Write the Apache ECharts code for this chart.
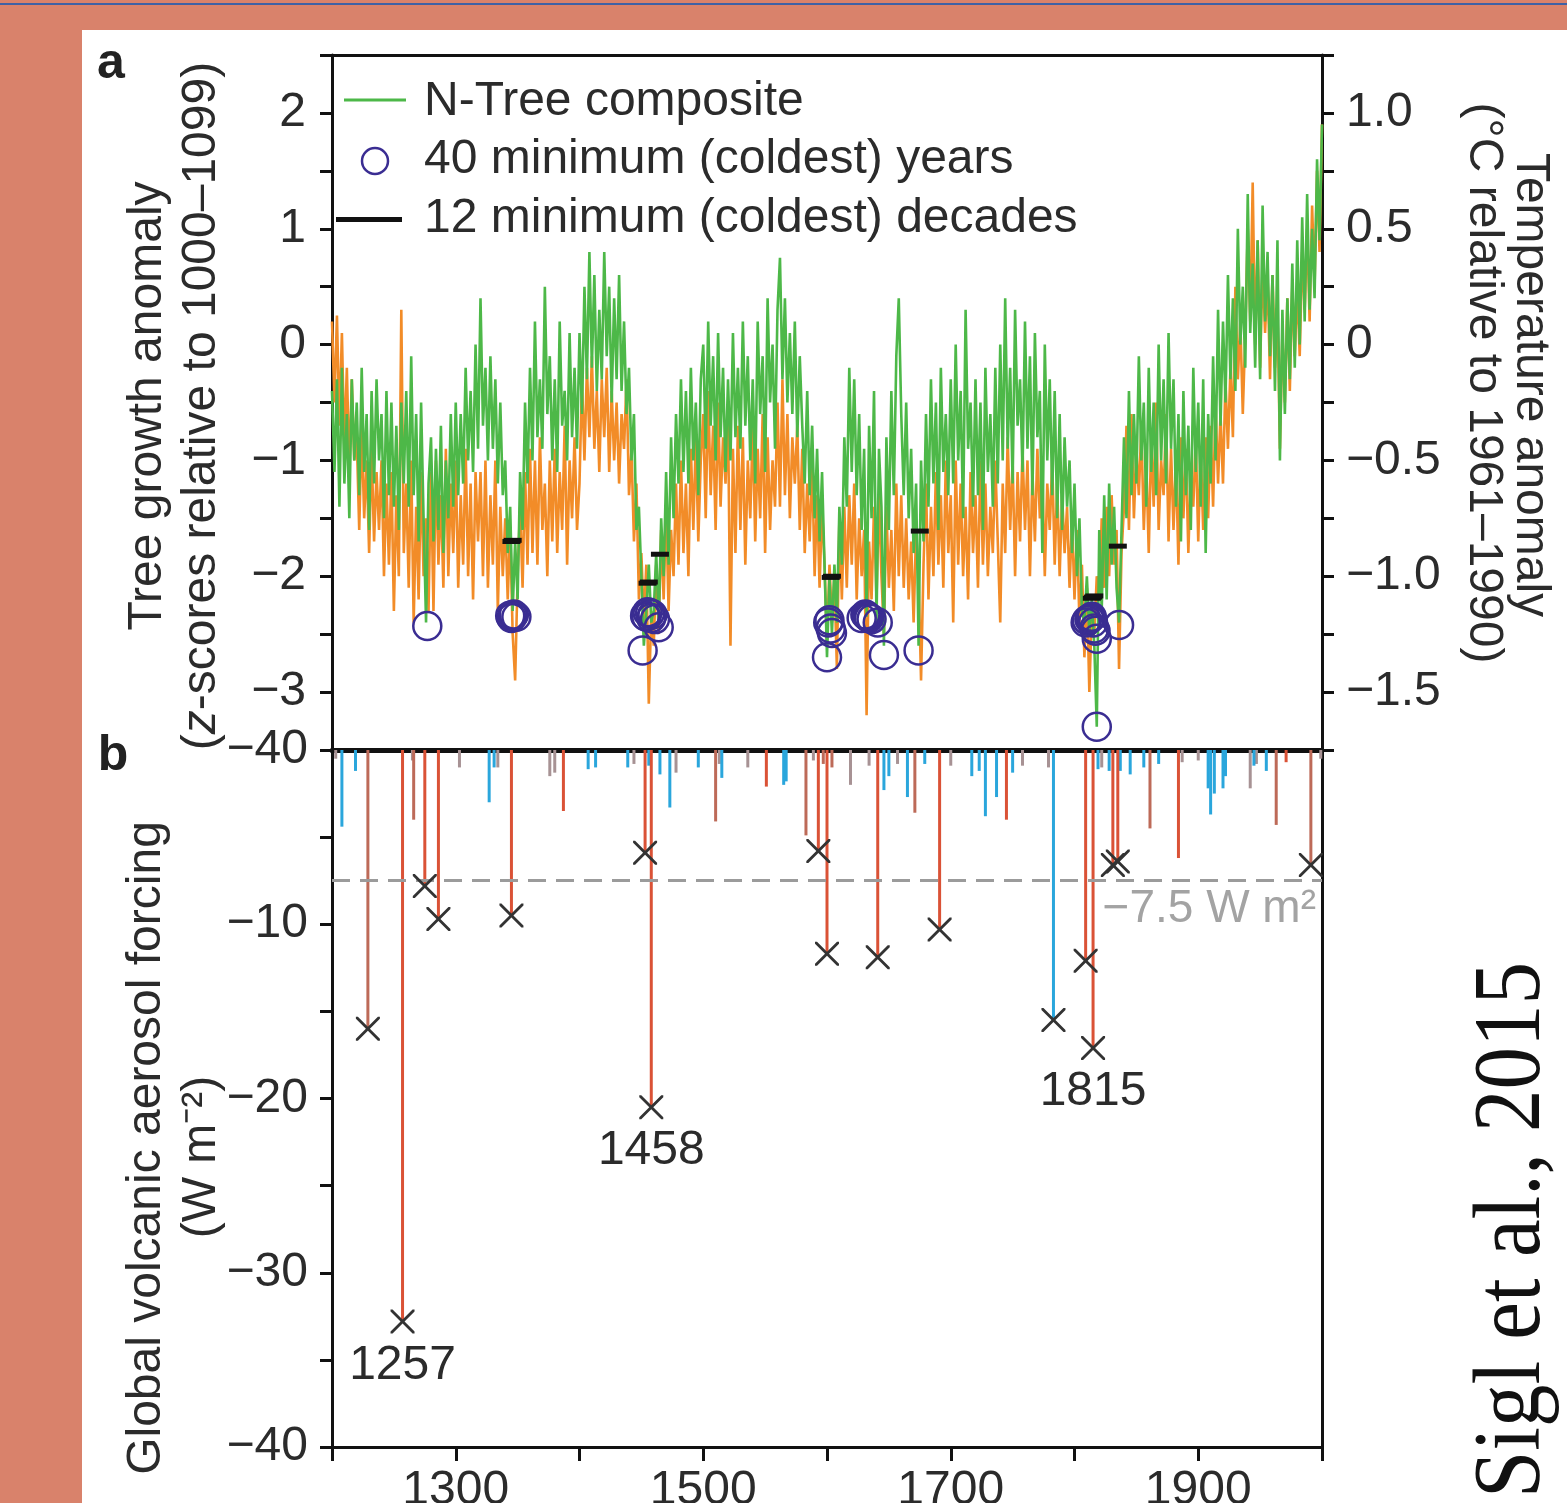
<!DOCTYPE html>
<html>
<head>
<meta charset="utf-8">
<script src="https://cdn.jsdelivr.net/npm/echarts@6/dist/echarts.min.js"></script>
<style>
html,body{margin:0;padding:0;background:#d9826b;}
#topline{position:absolute;left:0;top:3px;width:1567px;height:2px;background:#3f61a5;}
#panel{position:absolute;left:82px;top:30px;width:1485px;height:1473px;background:#fff;}
#chart{position:absolute;left:0;top:0;width:1567px;height:1503px;}
</style>
</head>
<body>
<div id="topline"></div>
<div id="panel"></div>
<div id="chart"></div>
<script>
// reconstructions read every 2 years; one row per 20-year block starting 1200
var startYear = 1200, blockYears = 20, stepYears = 2;

var nTreeComposite = [
  [-0.4,-1.1,-0.3,-1.4,-0.2,-1.2,-0.6,-1.5,-0.3,-1.0],   // 1200
  [-0.5,-1.3,-0.2,-1.1,-0.6,-1.6,-0.4,-1.2,-0.3,-1.0],   // 1220
  [-0.6,-1.5,-0.4,-1.3,-0.5,-1.4,-0.7,-1.6,-0.5,-1.2],   // 1240
  [-0.4,-1.4,-0.1,-1.3,-0.6,-1.7,-0.5,-1.5,-2.4,-1.2],   // 1260
  [-0.8,-1.7,-0.9,-1.6,-0.7,-1.8,-1.0,-1.5,-0.6,-1.4],   // 1280
  [-0.5,-1.3,-0.6,-1.2,-0.2,-1.0,-0.4,-1.1,0.0,-0.9],    // 1300
  [0.4,-0.7,-0.2,-1.0,-0.1,-0.9,-0.3,-1.2,-0.5,-1.3],    // 1320
  [-1.0,-1.8,-1.4,-2.3,-1.7,-2.2,-1.1,-1.6,-0.5,-1.2],   // 1340
  [-0.2,-1.0,0.2,-0.8,-0.3,-0.9,0.5,-0.6,-0.1,-1.0],     // 1360
  [-0.3,-1.1,0.2,-0.7,-0.4,-1.0,0.1,-0.8,-0.2,-0.9],     // 1380
  [0.1,-0.6,0.5,-0.3,0.8,-0.2,0.6,-0.4,0.3,-0.3],        // 1400
  [0.8,-0.1,0.5,-0.5,0.4,-0.3,0.6,-0.4,0.2,-0.6],        // 1420
  [-0.2,-1.0,-0.6,-1.6,-1.4,-2.0,-2.6,-2.3,-1.9,-2.4],   // 1440
  [-2.3,-1.8,-2.4,-1.5,-2.0,-1.1,-1.9,-0.8,-1.5,-0.6],   // 1460
  [-1.2,-0.3,-1.1,-0.4,-1.2,-0.2,-1.0,-0.5,-1.3,-0.3],   // 1480
  [0.0,-0.9,0.2,-0.7,-0.1,-1.0,0.1,-0.8,-0.2,-1.1],      // 1500
  [-0.3,-1.0,0.1,-0.8,-0.2,-0.9,0.2,-0.7,-0.1,-1.0],     // 1520
  [-0.3,-1.2,0.2,-0.6,-0.1,-1.1,0.4,-0.5,0.0,-0.9],      // 1540
  [0.3,0.75,-0.3,0.4,-0.5,0.1,-0.6,0.2,-0.8,-0.1],       // 1560
  [-0.7,-1.2,-0.4,-1.3,-0.7,-1.5,-0.9,-1.7,-1.1,-1.9],   // 1580
  [-2.7,-2.0,-2.5,-1.9,-2.4,-1.4,-1.9,-0.8,-1.4,-0.2],   // 1600
  [-1.1,-0.3,-1.3,-0.6,-1.6,-0.9,-2.35,-0.7,-1.5,-0.4],  // 1620
  [-2.4,-0.9,-1.4,-2.6,-0.8,-1.6,-0.4,-1.3,-0.1,0.4],    // 1640
  [-0.6,-1.3,-0.5,-1.5,-0.9,-1.8,-1.2,-2.6,-1.0,-1.7],   // 1660
  [-0.6,-1.4,-0.3,-1.2,-0.5,-1.6,-0.2,-1.1,-0.6,-1.3],   // 1680
  [-0.3,-1.2,0.0,-1.0,-0.4,-1.5,0.3,-0.9,-0.5,-1.4],     // 1700
  [-0.3,-1.3,-0.5,-1.6,-0.2,-1.1,-0.6,-1.4,-0.2,-1.2],   // 1720
  [0.0,-1.0,0.4,-0.9,-0.2,-1.2,0.3,-0.7,-0.3,-1.1],      // 1740
  [0.2,-0.9,-0.1,-1.3,0.1,-0.8,-0.4,-1.8,0.0,-1.0],      // 1760
  [-0.3,-1.3,-0.4,-1.5,-0.6,-1.6,-0.8,-1.4,-1.0,-1.8],   // 1780
  [-1.2,-2.0,-1.5,-2.3,-2.4,-2.0,-2.5,-2.2,-2.6,-3.3],   // 1800
  [-1.6,-2.3,-1.3,-2.2,-1.2,-1.9,-1.4,-2.1,-2.4,-1.6],   // 1820
  [-0.8,-1.5,-0.4,-1.3,-0.6,-1.2,-0.1,-1.0,-0.5,-1.4],   // 1840
  [-0.2,-1.1,-0.5,-1.3,0.0,-1.0,-0.3,-1.2,0.1,-0.9],     // 1860
  [-0.3,-1.4,-0.6,-1.7,-0.4,-1.3,-0.7,-1.6,-0.2,-1.1],   // 1880
  [-0.5,-1.4,-0.3,-1.8,-0.6,-1.2,-0.1,-1.0,0.3,-0.7],    // 1900
  [0.2,-0.5,0.6,-0.3,0.4,-0.4,1.0,0.0,0.5,-0.2],         // 1920
  [1.3,0.1,0.7,-0.2,0.9,-0.3,1.2,0.2,0.8,-0.1],          // 1940
  [0.6,-0.4,0.9,-1.0,0.3,-0.6,0.4,-0.3,0.7,-0.2],        // 1960
  [0.9,0.0,1.1,0.2,1.3,0.3,1.0,0.4,1.6,0.9],             // 1980
  [1.9]                                                  // 2000
];

var orangeRecon = [
  [0.2,-0.5,0.25,-0.7,0.1,-0.9,-0.2,-1.1,-0.3,-1.0],     // 1200
  [-0.8,-1.6,-0.7,-1.5,-1.0,-1.8,-0.9,-1.7,-1.1,-1.6],   // 1220
  [-1.0,-2.0,-1.2,-1.9,-1.1,-2.3,-1.3,-2.0,0.3,-1.8],    // 1240
  [-1.2,-2.1,-1.0,-2.4,-1.4,-2.2,-1.1,-2.0,-1.5,-2.3],   // 1260
  [-1.1,-2.3,-1.0,-1.9,-1.3,-2.1,-0.9,-2.0,-1.2,-1.8],   // 1280
  [-1.0,-2.1,-1.3,-1.9,-0.9,-2.0,-1.2,-2.2,-1.1,-1.7],   // 1300
  [-1.1,-2.0,-1.0,-2.1,-1.3,-1.9,-1.0,-2.3,-1.4,-2.0],   // 1320
  [-1.5,-2.2,-1.6,-2.5,-2.9,-2.0,-1.4,-2.1,-1.1,-1.9],   // 1340
  [-0.9,-1.8,-1.0,-1.9,-0.8,-1.6,-1.2,-2.0,-1.0,-1.7],   // 1360
  [-0.9,-1.8,-1.1,-1.6,-0.7,-1.9,-1.0,-1.5,-0.8,-1.6],   // 1380
  [-1.2,-0.3,-1.0,-0.2,-0.8,-0.1,-0.9,-0.4,-1.1,-0.3],   // 1400
  [-0.8,-0.2,-1.1,-0.4,-1.0,-0.5,-1.2,-0.6,-0.9,-0.3],   // 1420
  [-1.3,-0.9,-1.7,-1.2,-2.2,-1.8,-2.4,-1.9,-3.1,-2.3],   // 1440
  [-2.6,-1.9,-2.5,-1.6,-2.2,-1.4,-2.3,-1.6,-2.0,-1.2],   // 1460
  [-1.9,-1.0,-1.8,-1.2,-2.0,-0.9,-1.6,-0.8,-1.7,-1.0],   // 1480
  [-0.6,-1.5,-0.4,-1.3,-0.7,-1.6,-0.5,-1.4,-0.8,-1.2],   // 1500
  [-0.6,-2.6,-0.9,-1.8,-0.7,-1.6,-0.8,-1.9,-1.0,-1.5],   // 1520
  [-0.7,-1.7,-0.9,-1.5,-0.6,-1.8,-0.8,-1.6,-1.0,-1.4],   // 1540
  [-0.5,-1.4,-0.3,-1.3,-0.6,-1.5,-0.8,-1.2,-0.7,-1.6],   // 1560
  [-0.9,-1.8,-1.2,-1.7,-1.0,-2.0,-1.3,-2.1,-1.4,-1.9],   // 1580
  [-2.6,-1.9,-2.4,-2.0,-2.8,-1.5,-2.2,-1.4,-2.1,-1.3],   // 1600
  [-1.9,-1.2,-2.2,-1.5,-2.0,-1.6,-3.2,-1.7,-2.2,-1.4],   // 1620
  [-2.2,-1.3,-2.0,-2.5,-1.4,-2.1,-1.6,-2.3,-1.2,-2.0],   // 1640
  [-1.3,-2.1,-1.5,-2.2,-1.7,-2.4,-1.6,-2.0,-2.9,-1.9],   // 1660
  [-1.2,-2.2,-1.4,-2.0,-1.1,-1.9,-1.3,-2.1,-1.0,-1.8],   // 1680
  [-1.3,-2.4,-1.0,-1.9,-1.2,-2.0,-1.4,-2.2,-1.1,-1.8],   // 1700
  [-1.3,-2.1,-1.0,-1.9,-1.2,-2.0,-1.4,-1.8,-1.0,-1.7],   // 1720
  [-2.4,-1.2,-1.8,-0.8,-1.6,-1.0,-2.0,-1.1,-1.7,-0.9],   // 1740
  [-1.6,-1.0,-2.0,-1.1,-1.7,-0.9,-1.5,-1.1,-2.0,-1.2],   // 1760
  [-1.6,-1.0,-1.9,-1.2,-2.0,-1.3,-1.8,-1.4,-2.1,-1.5],   // 1780
  [-2.2,-1.6,-2.4,-1.9,-2.7,-2.1,-3.0,-2.3,-2.5,-2.0],   // 1800
  [-2.2,-1.5,-2.1,-1.4,-2.0,-1.3,-1.9,-1.6,-2.8,-1.8],   // 1820
  [-1.4,-0.7,-1.6,-0.6,-1.5,-0.9,-1.3,-0.7,-1.6,-1.0],   // 1840
  [-1.8,-0.8,-1.4,-0.5,-1.6,-1.0,-1.3,-0.6,-1.7,-0.9],   // 1860
  [-1.6,-1.0,-1.9,-0.8,-1.5,-0.9,-1.8,-1.1,-1.4,-0.8],   // 1880
  [-1.7,-0.9,-1.6,-0.8,-1.5,-0.7,-1.4,-0.5,-1.2,-0.6],   // 1900
  [-1.2,-0.3,-0.9,-0.2,-0.8,0.5,-0.3,0.2,-0.6,0.1],      // 1920
  [1.0,0.2,1.4,0.0,0.9,-0.2,0.7,0.1,0.6,-0.3],           // 1940
  [0.6,-0.2,0.3,-0.9,0.1,-0.5,0.4,-0.4,0.5,-0.1],        // 1960
  [0.5,-0.1,0.8,0.3,1.0,0.2,1.2,0.5,1.5,0.8],            // 1980
  [1.9]                                                  // 2000
];

// 40 coldest years
var coldYears = [1277,1344,1345,1346,1347,1349,1451,1453,1454,1455,1457,1458,1459,1461,1464,
  1600,1601,1602,1603,1604,1628,1631,1632,1633,1634,1636,1641,1646,1674,
  1809,1810,1812,1813,1814,1815,1816,1817,1818,1818,1836];
var coldYearValues = [-2.43,-2.34,-2.36,-2.34,-2.33,-2.35,-2.64,-2.34,-2.35,-2.31,-2.32,-2.36,-2.33,-2.37,-2.44,
  -2.70,-2.40,-2.38,-2.45,-2.49,-2.36,-2.33,-2.34,-2.35,-2.36,-2.37,-2.40,-2.68,-2.64,
  -2.40,-2.38,-2.37,-2.36,-2.35,-2.40,-2.45,-2.47,-2.54,-3.30,-2.42];

// 12 coldest decades
var coldDecadeYears = [1345,1346,1455,1456,1465,1603,1604,1675,1814,1815,1816,1835];
var coldDecadeValues = [-1.70,-1.69,-2.06,-2.05,-1.81,-2.01,-2.00,-1.61,-2.19,-2.18,-2.17,-1.74];

// volcanic forcing (W m-2), [year, value]
var redForcing = [[1257,-32.8],[1275,-7.8],[1286,-9.7],[1345,-9.5],[1387,-3.5],[1453,-5.9],[1458,-20.5],
  [1551,-2.1],[1593,-5.8],[1600,-11.7],[1641,-11.9],[1691,-10.3],[1745,-4.0],[1809,-12.1],[1815,-17.1],
  [1831,-6.6],[1835,-6.4],[1884,-6.2],[1971,-0.7]];
var roseForcing = [[1229,-16.0],[1266,-4.0],[1510,-4.1],[1583,-4.9],[1597,-0.8],[1604,-1.0],[1671,-3.6],
  [1861,-4.5],[1963,-4.3],[1991,-6.6]];
var blueForcing = [[1208,-4.4],[1219,-1.2],[1327,-3.0],[1331,-1.0],[1407,-1.1],[1413,-1.0],[1439,-1.0],
  [1456,-0.9],[1465,-1.4],[1473,-3.3],[1496,-1.0],[1515,-1.6],[1565,-2.0],[1567,-1.8],[1646,-2.3],[1650,-1.5],
  [1665,-2.7],[1679,-0.8],[1717,-1.5],[1723,-1.2],[1728,-3.8],[1737,-2.7],[1750,-1.3],[1783,-15.5],[1819,-1.1],
  [1828,-1.2],[1837,-1.2],[1845,-1.4],[1856,-1.0],[1868,-0.8],[1908,-2.2],[1910,-3.7],[1913,-2.5],[1920,-2.2],
  [1922,-1.5],[1945,-0.9],[1955,-1.2]];
var grayForcing = [[1203,-0.5],[1265,-0.6],[1303,-1.0],[1334,-1.0],[1376,-1.5],[1380,-1.3],[1444,-0.8],
  [1478,-1.3],[1513,-0.8],[1536,-1.0],[1589,-0.6],[1619,-2.0],[1634,-0.9],[1657,-0.8],[1700,-0.9],[1758,-0.9],
  [1779,-1.0],[1822,-1.0],[1887,-0.7],[1900,-0.6],[1942,-2.2],[1947,-0.8],[1999,-0.5]];

var markedYears = [1229,1257,1275,1286,1345,1453,1458,1593,1600,1641,1691,1783,1809,1815,1831,1835,1991];
var labelledYears = [1257,1458,1815];

var FONT = 'Liberation Sans';
var MINUS = '\u2212';

function toPairs(blocks) {
  var out = [];
  blocks.forEach(function (row, b) {
    row.forEach(function (v, j) { out.push([startYear + b * blockYears + j * stepYears, v]); });
  });
  return out;
}
function zip(xs, ys) {
  return xs.map(function (x, i) { return [x, ys[i]]; });
}
var allForcing = redForcing.concat(roseForcing, blueForcing, grayForcing);
var markerData = markedYears.map(function (y) {
  var hit = allForcing.filter(function (d) { return d[0] === y; })[0];
  var item = { value: [y, hit[1]] };
  if (labelledYears.indexOf(y) >= 0) item.label = { show: true };
  return item;
});

function stick(params, api) {
  var x = api.value(0), v = api.value(1);
  var a = api.coord([x, 0]), b = api.coord([x, v]);
  return { type: 'rect', shape: { x: a[0] - 1.5, y: a[1], width: 3, height: b[1] - a[1] },
    style: { fill: api.visual('color') } };
}
function stickSeries(name, data, color) {
  return { name: name, type: 'custom', xAxisIndex: 2, yAxisIndex: 2, renderItem: stick,
    itemStyle: { color: color }, data: data, z: 2 };
}

var axisCol = '#111', labelCol = '#2b2b2b';
var labelBase = { color: labelCol, fontSize: 48, fontFamily: FONT };

var myChart = echarts.init(document.getElementById('chart'));
var option = {
  animation: false,
  backgroundColor: 'transparent',
  textStyle: { fontFamily: FONT },
  grid: [
    { left: 332, top: 55, width: 990, height: 695, outerBoundsMode: 'none' },
    { left: 332, top: 750, width: 990, height: 697, outerBoundsMode: 'none' }
  ],
  xAxis: [
    { gridIndex: 0, type: 'value', min: 1200, max: 2000, position: 'bottom',
      axisLine: { onZero: false, lineStyle: { color: axisCol, width: 5 } },
      axisTick: { show: false }, axisLabel: { show: false }, splitLine: { show: false } },
    { gridIndex: 0, type: 'value', min: 1200, max: 2000, position: 'top',
      axisLine: { onZero: false, lineStyle: { color: axisCol, width: 3 } },
      axisTick: { show: false }, axisLabel: { show: false }, splitLine: { show: false } },
    { gridIndex: 1, type: 'value', min: 1200, max: 2000, interval: 100, position: 'bottom',
      axisLine: { onZero: false, lineStyle: { color: axisCol, width: 3 } },
      axisTick: { length: 14, lineStyle: { color: axisCol, width: 3 } },
      axisLabel: Object.assign({ margin: 20, formatter: function (v) {
        return (v - 1300) % 200 === 0 ? String(v) : ''; } }, labelBase),
      splitLine: { show: false } }
  ],
  yAxis: [
    { gridIndex: 0, type: 'value', min: -3.5, max: 2.5, interval: 0.5, position: 'left',
      axisLine: { show: true, onZero: false, lineStyle: { color: axisCol, width: 3 } },
      axisTick: { length: 12, lineStyle: { color: axisCol, width: 3 } },
      axisLabel: Object.assign({ margin: 26, formatter: function (v) {
        if (Math.abs(v - Math.round(v)) > 1e-6) return '';
        return v < 0 ? MINUS + Math.abs(v) : String(v); } }, labelBase),
      splitLine: { show: false } },
    { gridIndex: 0, type: 'value', min: -1.75, max: 1.25, interval: 0.25, position: 'right',
      axisLine: { show: true, onZero: false, lineStyle: { color: axisCol, width: 3 } },
      axisTick: { length: 12, lineStyle: { color: axisCol, width: 3 } },
      axisLabel: Object.assign({ margin: 24, formatter: function (v) {
        var r = v * 2;
        if (Math.abs(r - Math.round(r)) > 1e-6) return '';
        if (Math.abs(v) < 1e-9) return '0';
        var s = Math.abs(v).toFixed(1);
        return v < 0 ? MINUS + s : s; } }, labelBase),
      splitLine: { show: false } },
    { gridIndex: 1, type: 'value', min: -40, max: 0, interval: 5, position: 'left',
      axisLine: { show: true, onZero: false, lineStyle: { color: axisCol, width: 3 } },
      axisTick: { length: 12, lineStyle: { color: axisCol, width: 3 } },
      axisLabel: Object.assign({ margin: 24, formatter: function (v) {
        if (v % 10 !== 0) return '';
        if (v === 0) return MINUS + '40';
        return MINUS + Math.abs(v); } }, labelBase),
      splitLine: { show: false } },
    { gridIndex: 1, type: 'value', min: -40, max: 0, position: 'right',
      axisLine: { show: true, onZero: false, lineStyle: { color: axisCol, width: 3 } },
      axisTick: { show: false }, axisLabel: { show: false }, splitLine: { show: false } }
  ],
  series: [
    { name: 'reconstruction', type: 'line', xAxisIndex: 0, yAxisIndex: 0, data: toPairs(orangeRecon),
      showSymbol: false, symbol: 'none', lineStyle: { color: '#f28c28', width: 2.6 }, z: 2 },
    { name: 'N-Tree composite', type: 'line', xAxisIndex: 0, yAxisIndex: 0, data: toPairs(nTreeComposite),
      showSymbol: false, symbol: 'none', lineStyle: { color: '#4db848', width: 2.6 }, z: 3 },
    { name: '40 minimum (coldest) years', type: 'scatter', xAxisIndex: 0, yAxisIndex: 0,
      data: zip(coldYears, coldYearValues), symbol: 'circle', symbolSize: 28,
      itemStyle: { color: 'rgba(0,0,0,0)', borderColor: '#3a2d92', borderWidth: 2.5, opacity: 1 }, z: 5 },
    { name: '12 minimum (coldest) decades', type: 'scatter', xAxisIndex: 0, yAxisIndex: 0,
      data: zip(coldDecadeYears, coldDecadeValues), symbol: 'rect', symbolSize: [18, 5],
      itemStyle: { color: '#111', opacity: 1 }, z: 6 },
    stickSeries('gray', grayForcing, '#a79294'),
    stickSeries('blue', blueForcing, '#2aa6dc'),
    stickSeries('rose', roseForcing, '#bd6a58'),
    stickSeries('red', redForcing, '#da5236'),
    { name: 'eruptions', type: 'scatter', xAxisIndex: 2, yAxisIndex: 2, data: markerData,
      symbol: 'path://M0,0L2,0L12,10L22,0L24,0L24,2L14,12L24,22L24,24L22,24L12,14L2,24L0,24L0,22L10,12L0,2Z',
      symbolSize: 24, itemStyle: { color: '#333', opacity: 1 }, z: 6,
      label: { show: false, position: 'bottom', distance: 8, color: '#2b2b2b', fontSize: 48, fontFamily: FONT,
        formatter: function (p) { return String(p.value[0]); } },
      markLine: { silent: true, symbol: 'none',
        lineStyle: { color: '#9b9b9b', type: [18, 10], width: 3 },
        label: { show: true, position: 'insideEndBottom', distance: 6, color: '#a3a3a3', fontSize: 46,
          fontFamily: FONT, formatter: MINUS + '7.5 W m\u00b2' },
        data: [{ yAxis: -7.5 }] } }
  ],
  graphic: [
    { type: 'line', shape: { x1: 344, y1: 100, x2: 406, y2: 100 }, style: { stroke: '#4db848', lineWidth: 3 } },
    { type: 'circle', shape: { cx: 375, cy: 161, r: 13 }, style: { fill: 'none', stroke: '#3a2d92', lineWidth: 2.5 } },
    { type: 'rect', shape: { x: 336, y: 217, width: 66, height: 5 }, style: { fill: '#111' } },
    { type: 'text', x: 424, y: 102, style: { text: 'N-Tree composite', fontSize: 48, fontFamily: FONT, fill: '#2b2b2b', verticalAlign: 'middle' } },
    { type: 'text', x: 424, y: 160, style: { text: '40 minimum (coldest) years', fontSize: 48, fontFamily: FONT, fill: '#2b2b2b', verticalAlign: 'middle' } },
    { type: 'text', x: 424, y: 219, style: { text: '12 minimum (coldest) decades', fontSize: 48, fontFamily: FONT, fill: '#2b2b2b', verticalAlign: 'middle' } },
    { type: 'text', x: 111, y: 64, style: { text: 'a', fontSize: 50, fontWeight: 'bold', fontFamily: FONT, fill: '#222', align: 'center', verticalAlign: 'middle' } },
    { type: 'text', x: 113, y: 756, style: { text: 'b', fontSize: 50, fontWeight: 'bold', fontFamily: FONT, fill: '#222', align: 'center', verticalAlign: 'middle' } },
    { type: 'text', x: 148, y: 406, rotation: Math.PI / 2, style: { text: 'Tree growth anomaly', fontSize: 48, fontFamily: FONT, fill: '#2b2b2b', align: 'center', verticalAlign: 'middle' } },
    { type: 'text', x: 202, y: 406, rotation: Math.PI / 2, style: { text: '({i|z}-scores relative to 1000\u20131099)', fontSize: 48, fontFamily: FONT, fill: '#2b2b2b', align: 'center', verticalAlign: 'middle',
      rich: { i: { fontStyle: 'italic', fontSize: 48, fontFamily: FONT, fill: '#2b2b2b' } } } },
    { type: 'text', x: 147, y: 1148, rotation: Math.PI / 2, style: { text: 'Global volcanic aerosol forcing', fontSize: 48, fontFamily: FONT, fill: '#2b2b2b', align: 'center', verticalAlign: 'middle' } },
    { type: 'text', x: 202, y: 1157, rotation: Math.PI / 2, style: { text: '(W m\u207b\u00b2)', fontSize: 48, fontFamily: FONT, fill: '#2b2b2b', align: 'center', verticalAlign: 'middle' } },
    { type: 'text', x: 1530, y: 385, rotation: -Math.PI / 2, style: { text: 'Temperature anomaly', fontSize: 48, fontFamily: FONT, fill: '#2b2b2b', align: 'center', verticalAlign: 'middle' } },
    { type: 'text', x: 1483, y: 383, rotation: -Math.PI / 2, style: { text: '(\u00b0C relative to 1961\u20131990)', fontSize: 48, fontFamily: FONT, fill: '#2b2b2b', align: 'center', verticalAlign: 'middle' } },
    { type: 'text', x: 1514, y: 1230, rotation: Math.PI / 2, scaleY: 1.12, style: { text: 'Sigl et al., 2015', fontSize: 85, fontFamily: 'Liberation Serif', fill: '#111', align: 'center', verticalAlign: 'middle' } }
  ]
};
myChart.setOption(option);
</script>
</body>
</html>
